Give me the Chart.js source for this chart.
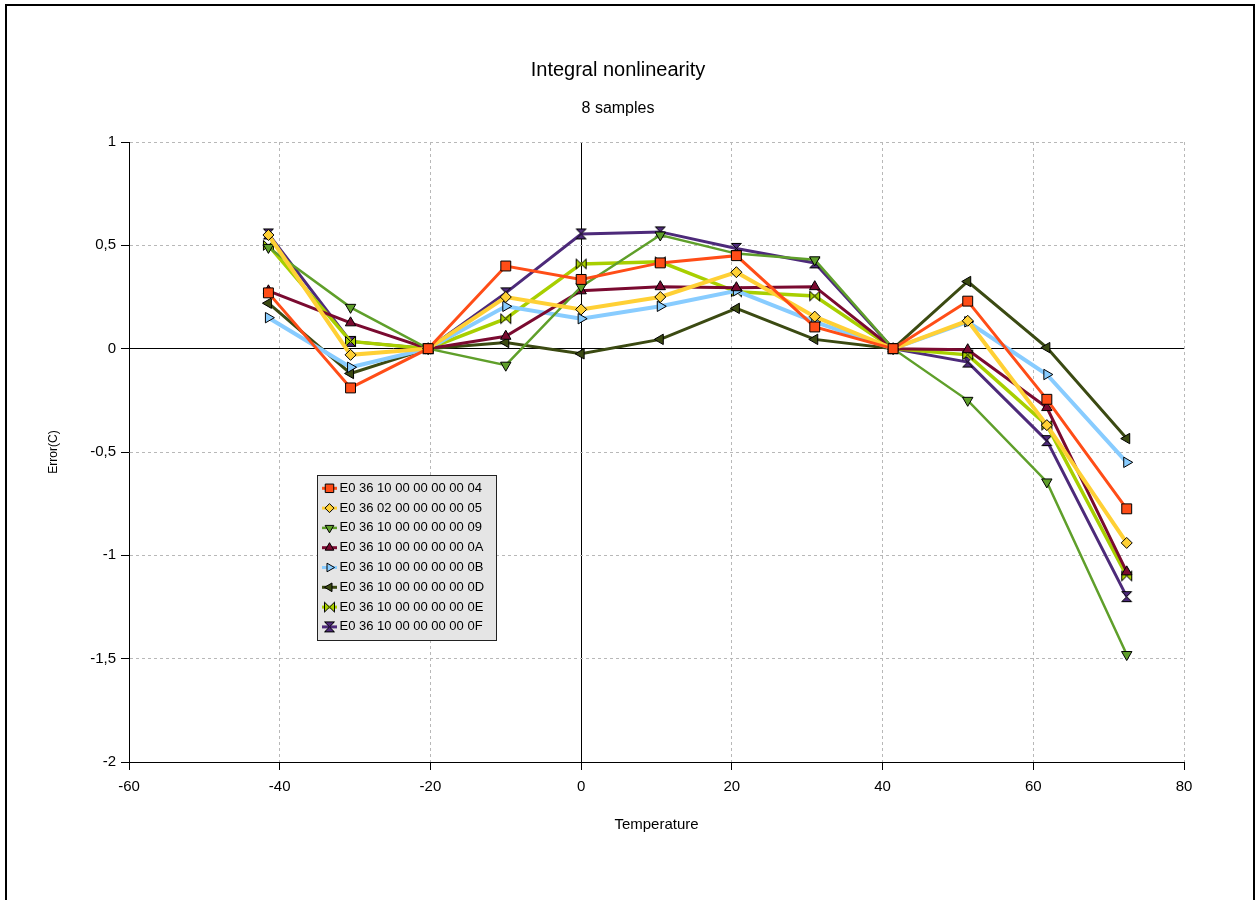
<!DOCTYPE html>
<html>
<head>
<meta charset="utf-8">
<title>Integral nonlinearity</title>
<script src="https://cdn.jsdelivr.net/npm/chart.js@4.4.1/dist/chart.umd.min.js"></script>
<style>
  html, body { margin: 0; padding: 0; background: #fff; overflow: hidden; }
  #frame { position: absolute; left: 5px; top: 4px; width: 1246px; height: 1000px; border: 2px solid #000; }
  #wrap { position: absolute; left: 0; top: 0; width: 1255px; height: 900px; }
</style>
</head>
<body>
<div id="frame"></div>
<div id="wrap"><canvas id="inlChart"></canvas></div>
<script>
// temperatures (x) shared by all samples
const temps = [-41.5, -30.6, -20.3, -10.0, 0.0, 10.5, 20.6, 31.0, 41.4, 51.3, 61.8, 72.4];

// error per sample (y)
const err04 = [0.27, -0.19, 0, 0.40, 0.335, 0.415, 0.45, 0.105, 0, 0.23, -0.245, -0.775];
const err05 = [0.55, -0.03, 0, 0.25, 0.19, 0.25, 0.37, 0.155, 0, 0.135, -0.37, -0.94];
const err09 = [0.49, 0.20, 0, -0.08, 0.30, 0.55, 0.46, 0.43, 0, -0.25, -0.645, -1.48];
const err0A = [0.28, 0.125, 0, 0.06, 0.28, 0.30, 0.295, 0.30, 0, -0.005, -0.285, -1.08];
const err0B = [0.15, -0.09, 0, 0.205, 0.145, 0.205, 0.28, 0.13, 0, 0.13, -0.125, -0.55];
const err0D = [0.22, -0.12, 0, 0.03, -0.025, 0.045, 0.195, 0.045, 0, 0.325, 0.005, -0.435];
const err0E = [0.50, 0.035, 0, 0.145, 0.41, 0.42, 0.275, 0.255, 0, -0.03, -0.37, -1.10];
const err0F = [0.555, 0.035, 0, 0.27, 0.555, 0.565, 0.485, 0.415, 0, -0.065, -0.445, -1.20];

const sampleNames = [
  "E0 36 10 00 00 00 00 04",
  "E0 36 02 00 00 00 00 05",
  "E0 36 10 00 00 00 00 09",
  "E0 36 10 00 00 00 00 0A",
  "E0 36 10 00 00 00 00 0B",
  "E0 36 10 00 00 00 00 0D",
  "E0 36 10 00 00 00 00 0E",
  "E0 36 10 00 00 00 00 0F"
];

const xTickValues = [-60, -40, -20, 0, 20, 40, 60, 80];
const yTickValues = [-2, -1.5, -1, -0.5, 0, 0.5, 1];

const FONT = "'Liberation Sans', Arial, sans-serif";

// bowtie marker (two triangles meeting in the middle)
function makeBowtie(fill) {
  const c = document.createElement("canvas");
  c.width = 13; c.height = 13;
  const g = c.getContext("2d");
  g.fillStyle = fill;
  g.strokeStyle = "#000";
  g.lineWidth = 1;
  g.beginPath();
  g.moveTo(1.5, 1.5); g.lineTo(6.5, 6.5); g.lineTo(1.5, 11.5); g.closePath();
  g.moveTo(11.5, 1.5); g.lineTo(6.5, 6.5); g.lineTo(11.5, 11.5); g.closePath();
  g.fill();
  g.stroke();
  return c;
}

function series(i, values, color, width, style, rot, radius) {
  return {
    label: sampleNames[i],
    data: temps.map((t, k) => ({ x: t, y: values[k] })),
    borderColor: color,
    backgroundColor: color,
    borderWidth: width,
    pointStyle: style,
    pointRotation: rot,
    pointRadius: radius,
    pointBackgroundColor: color,
    pointBorderColor: "#000",
    pointBorderWidth: 1,
    tension: 0,
    fill: false
  };
}

const datasets = [
  series(0, err04, "#ff4d17", 3, "rect", 0, 7),
  series(1, err05, "#ffd035", 4, "rectRot", 0, 5.5),
  series(2, err09, "#5f9f2a", 2.5, "triangle", 180, 6),
  series(3, err0A, "#7a0a30", 3, "triangle", 0, 6),
  series(4, err0B, "#88ccff", 4, "triangle", 90, 6),
  series(5, err0D, "#3b4a12", 3, "triangle", 270, 6),
  series(6, err0E, "#a8cf00", 3.5, makeBowtie("#a8cf00"), 0, 6),
  series(7, err0F, "#4d2a7a", 3, makeBowtie("#4d2a7a"), 90, 6)
];

// legend box drawn inside the plot area
const legendBox = { x: 317, y: 475, w: 179, h: 165, first: 13.3, rowH: 19.8 };

const boxLegend = {
  id: "boxLegend",
  afterDraw(chart) {
    const ctx = chart.ctx;
    const b = legendBox;
    ctx.save();
    ctx.fillStyle = "#e5e5e5";
    ctx.fillRect(b.x, b.y, b.w, b.h);
    ctx.strokeStyle = "#222";
    ctx.lineWidth = 1;
    ctx.strokeRect(b.x + 0.5, b.y + 0.5, b.w, b.h);
    chart.data.datasets.forEach((ds, i) => {
      const cy = b.y + b.first + i * b.rowH;
      ctx.strokeStyle = ds.borderColor;
      ctx.lineWidth = Math.min(ds.borderWidth, 3);
      ctx.beginPath();
      ctx.moveTo(b.x + 5, cy);
      ctx.lineTo(b.x + 20, cy);
      ctx.stroke();
      ctx.fillStyle = ds.pointBackgroundColor;
      ctx.strokeStyle = "#000";
      ctx.lineWidth = 1;
      if (Chart.helpers && Chart.helpers.drawPoint) {
        Chart.helpers.drawPoint(ctx, {
          pointStyle: ds.pointStyle,
          rotation: ds.pointRotation,
          radius: ds.pointRadius - 1,
          borderWidth: 1
        }, b.x + 12.5, cy);
      }
      ctx.fillStyle = "#000";
      ctx.font = "13px " + FONT;
      ctx.textAlign = "left";
      ctx.textBaseline = "middle";
      ctx.fillText(ds.label, b.x + 22.5, cy);
    });
    ctx.restore();
  }
};

const gridColor = c => (c.tick && c.tick.value === 0) ? "#000" : "#b8b8b8";
const gridDash = c => (c.tick && c.tick.value !== 0) ? [3, 3] : [];

new Chart(document.getElementById("inlChart"), {
  type: "line",
  data: { datasets: datasets },
  plugins: [boxLegend],
  options: {
    responsive: true,
    maintainAspectRatio: false,
    animation: false,
    layout: { padding: { top: 58, left: 0, right: 19, bottom: 38 } },
    plugins: {
      legend: { display: false },
      tooltip: { enabled: false },
      title: {
        display: true,
        text: "Integral nonlinearity",
        color: "#000",
        font: { family: FONT, size: 20, weight: "normal" },
        padding: { top: 0, bottom: 17.4 }
      },
      subtitle: {
        display: true,
        text: "8 samples",
        color: "#000",
        font: { family: FONT, size: 16, weight: "normal" },
        padding: { top: 0, bottom: 23.4 }
      }
    },
    scales: {
      x: {
        type: "linear",
        min: -60,
        max: 80,
        afterBuildTicks: s => { s.ticks = xTickValues.map(v => ({ value: v })); },
        afterFit: s => { s.height = 100; },
        grid: { color: gridColor, lineWidth: 1, tickLength: 8, tickColor: "#000" },
        border: { display: true, color: "#000", width: 1, dash: gridDash },
        ticks: { color: "#000", font: { family: FONT, size: 15 }, padding: 7.7, maxRotation: 0 },
        title: {
          display: true,
          text: "Temperature",
          color: "#000",
          font: { family: FONT, size: 15 },
          padding: { top: 0, bottom: 28 }
        }
      },
      y: {
        type: "linear",
        min: -2,
        max: 1,
        afterBuildTicks: s => { s.ticks = yTickValues.map(v => ({ value: v })); },
        afterFit: s => { s.width = 129; },
        grid: { color: gridColor, lineWidth: 1, tickLength: 8, tickColor: "#000" },
        border: { display: true, color: "#000", width: 1, dash: gridDash },
        ticks: {
          color: "#000",
          font: { family: FONT, size: 15 },
          padding: 5,
          callback: v => String(v).replace(".", ",")
        },
        title: {
          display: true,
          text: "Error(C)",
          color: "#000",
          font: { family: FONT, size: 12 },
          padding: { top: 46.5, bottom: 0 }
        }
      },
      y2: {
        axis: "y",
        position: "right",
        display: true,
        afterFit: s => { s.width = 52; },
        grid: { display: false, drawTicks: false },
        border: { display: false },
        ticks: { display: false }
      }
    }
  }
});
</script>
</body>
</html>
